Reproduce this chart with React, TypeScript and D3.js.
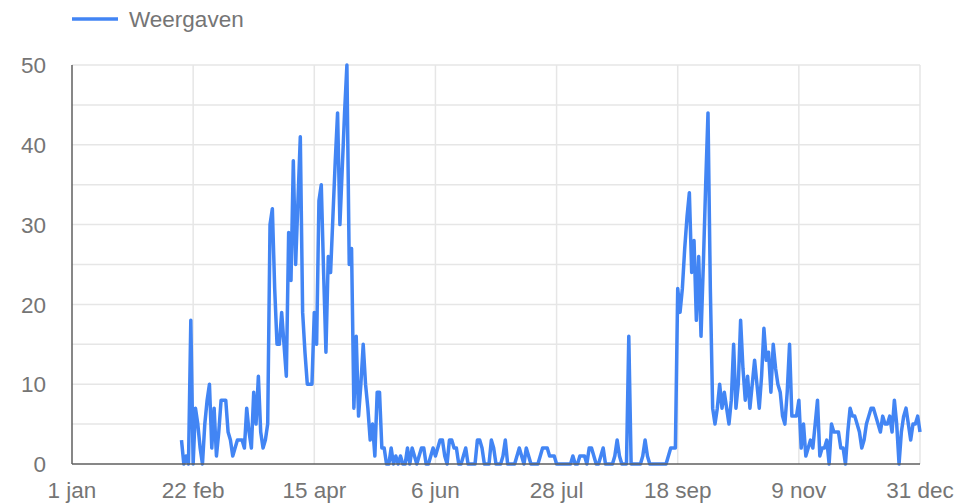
import * as d3 from "d3";

// daily "Weergaven", first value on 17 feb
const firstDay = "2019-02-17";
const views = [
  3, 0, 1, 0, 18, 0, 7, 5, 2, 0,
  5, 8, 10, 2, 7, 1, 4, 8, 8, 8,
  4, 3, 1, 2, 3, 3, 3, 2, 7, 4,
  2, 9, 5, 11, 4, 2, 3, 5, 30, 32,
  22, 15, 15, 19, 15, 11, 29, 23, 38, 25,
  33, 41, 19, 14, 10, 10, 10, 19, 15, 33,
  35, 24, 14, 26, 24, 31, 38, 44, 30, 37,
  44, 50, 25, 27, 7, 16, 6, 10, 15, 10,
  7, 3, 5, 1, 9, 9, 2, 2, 0, 0,
  2, 0, 1, 0, 1, 0, 0, 2, 0, 2,
  1, 0, 1, 2, 2, 0, 0, 1, 2, 1,
  2, 3, 3, 1, 0, 3, 3, 2, 2, 0,
  0, 1, 2, 0, 0, 0, 0, 3, 3, 2,
  0, 0, 0, 3, 2, 0, 0, 0, 1, 3,
  0, 0, 0, 0, 1, 2, 1, 0, 2, 1,
  0, 0, 0, 0, 1, 2, 2, 2, 1, 1,
  1, 0, 0, 0, 0, 0, 0, 0, 1, 0,
  0, 1, 1, 1, 0, 2, 2, 1, 0, 0,
  1, 2, 0, 0, 0, 0, 1, 3, 1, 0,
  0, 0, 16, 0, 0, 0, 0, 0, 1, 3,
  1, 0, 0, 0, 0, 0, 0, 0, 0, 1,
  2, 2, 2, 22, 19, 22, 27, 31, 34, 24,
  28, 18, 26, 16, 25, 35, 44, 22, 7, 5,
  7, 10, 7, 9, 7, 5, 8, 15, 7, 10,
  18, 12, 8, 11, 7, 10, 13, 10, 7, 11,
  17, 13, 14, 9, 15, 12, 10, 9, 6, 5,
  9, 15, 6, 6, 6, 8, 2, 5, 1, 2,
  3, 2, 5, 8, 1, 2, 2, 3, 0, 5,
  4, 4, 4, 2, 2, 0, 4, 7, 6, 6,
  5, 4, 2, 3, 5, 6, 7, 7, 6, 5,
  4, 6, 5, 5, 6, 4, 8, 5, 0, 4,
  6, 7, 5, 3, 5, 5, 6, 4,
];

const xTickDates = ["2019-01-01", "2019-02-22", "2019-04-15", "2019-06-06", "2019-07-28", "2019-09-18", "2019-11-09", "2019-12-31"];
const xTickLabels = ["1 jan", "22 feb", "15 apr", "6 jun", "28 jul", "18 sep", "9 nov", "31 dec"];
const yTicks = [0, 10, 20, 30, 40, 50];
const yGridLines = [5, 10, 15, 20, 25, 30, 35, 40, 45, 50];
const seriesName = "Weergaven";

const W = 974;
const H = 503;
const margin = { top: 65, right: 54, bottom: 39, left: 72 };
const blue = "#4285f4";
const textColor = "#757575";
const font = "'Liberation Sans', Arial, sans-serif";
const fontSize = 22.5;

export default function App() {
  const start = new Date(firstDay + "T00:00:00Z");
  const data = views.map((v, i) => ({ date: d3.utcDay.offset(start, i), v }));
  const tickDates = xTickDates.map(d => new Date(d + "T00:00:00Z"));

  const x = d3.scaleUtc()
    .domain([tickDates[0], tickDates[tickDates.length - 1]])
    .range([margin.left, W - margin.right]);
  const y = d3.scaleLinear()
    .domain([0, 50])
    .range([H - margin.bottom, margin.top]);

  const line = d3.line<{ date: Date; v: number }>()
    .x(d => x(d.date))
    .y(d => y(d.v));

  return (
    <svg width={W} height={H} style={{ position: "absolute", left: 0, top: 0, background: "#fff" }}>
      {/* legend */}
      <line x1={72} x2={118} y1={19} y2={19} stroke={blue} strokeWidth={3.5} />
      <text x={129} y={19} dy="0.36em" fontFamily={font} fontSize={fontSize} fill={textColor}>{seriesName}</text>

      {/* grid */}
      {yGridLines.map(t => (
        <line key={"h" + t} x1={margin.left} x2={W - margin.right} y1={y(t)} y2={y(t)} stroke="#e6e6e6" strokeWidth={1.5} />
      ))}
      {tickDates.slice(1).map((d, i) => (
        <line key={"v" + i} x1={x(d)} x2={x(d)} y1={margin.top} y2={H - margin.bottom} stroke="#e6e6e6" strokeWidth={1.5} />
      ))}

      {/* series */}
      <path d={line(data) || ""} fill="none" stroke={blue} strokeWidth={3.5} strokeLinejoin="round" />

      {/* baselines */}
      <line x1={margin.left} x2={W - margin.right} y1={y(0)} y2={y(0)} stroke="#5f5f5f" strokeWidth={1.5} />
      <line x1={margin.left} x2={margin.left} y1={margin.top} y2={y(0)} stroke="#5f5f5f" strokeWidth={1.5} />

      {/* y labels */}
      {yTicks.map(t => (
        <text key={"yl" + t} x={46} y={y(t)} dy="0.36em" textAnchor="end" fontFamily={font} fontSize={fontSize} fill={textColor}>{t}</text>
      ))}
      {/* x labels */}
      {tickDates.map((d, i) => (
        <text key={"xl" + i} x={x(d)} y={490} dy="0.36em" textAnchor="middle" fontFamily={font} fontSize={fontSize} fill={textColor}>{xTickLabels[i]}</text>
      ))}
    </svg>
  );
}
